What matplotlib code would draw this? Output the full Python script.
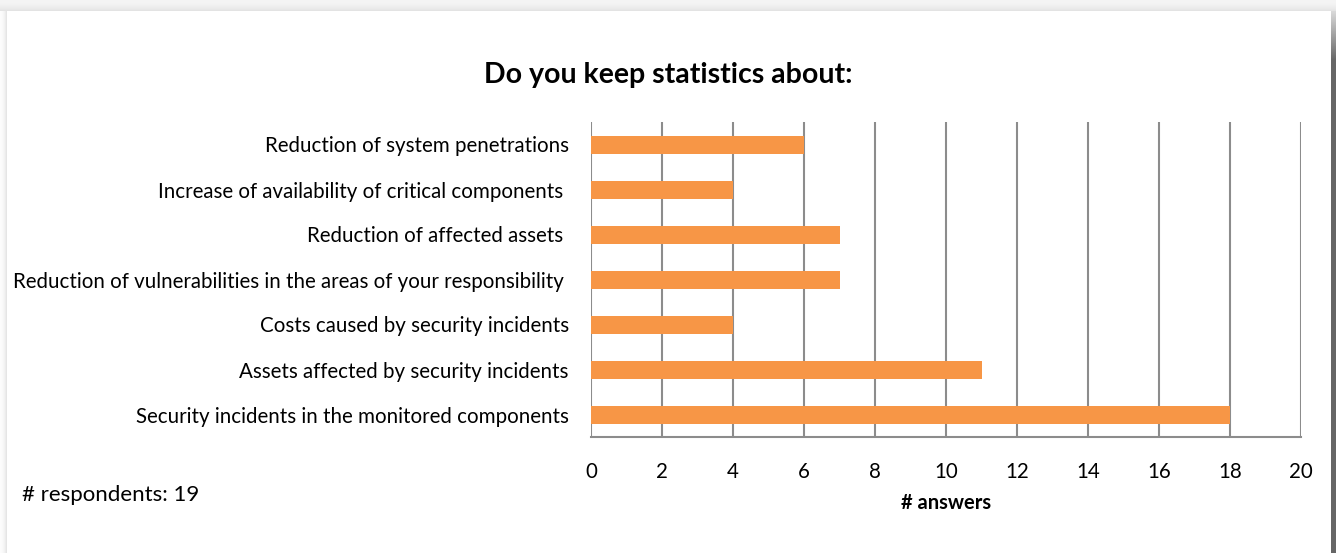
import matplotlib
matplotlib.use("Agg")
import matplotlib.pyplot as plt
import numpy as np

plt.rcParams['font.family'] = ['Lato', 'DejaVu Sans']

categories = [
    "Reduction of system penetrations",
    "Increase of availability of critical components ",
    "Reduction of affected assets ",
    "Reduction of vulnerabilities in the areas of your responsibility ",
    "Costs caused by security incidents",
    "Assets affected by security incidents",
    "Security incidents in the monitored components",
]
answers = [6, 4, 7, 7, 4, 11, 18]
x_ticks = [0, 2, 4, 6, 8, 10, 12, 14, 16, 18, 20]

W, H = 1336, 553
fig = plt.figure(figsize=(W / 100, H / 100), dpi=100)
fig.patch.set_facecolor('white')

# page frame with soft shadow
bg = fig.add_axes([0, 0, 1, 1], zorder=-10)
bg.set_xlim(0, W)
bg.set_ylim(H, 0)
bg.axis('off')
img = np.ones((H, W, 3))
top = 11
left = 7
for y in range(top):
    v = 0.96 - 0.08 * (y / top) ** 2
    img[y, :, :] = v
for x in range(left):
    v = 0.99 - 0.12 * (x / left) ** 2
    img[top:, x, :] = np.minimum(img[top:, x, :], v)
img[top:, 1331:, :] = 0.40
for y in range(top, 60):
    t = (y - top) / 49
    img[y, 1331:, :] = 0.85 - 0.45 * t
bg.imshow(img, extent=(0, W, H, 0), aspect='auto', interpolation='bilinear')

ax = fig.add_axes([591 / W, 116 / H, 710 / W, 315 / H])
ypos = np.arange(len(categories))
ax.barh(ypos, answers, height=0.4, color='#F79646', zorder=3)
ax.set_ylim(len(categories) - 0.5, -0.5)
ax.set_xlim(0, 20)
ax.set_xticks(x_ticks)
ax.set_xticklabels([str(t) for t in x_ticks], fontsize=14.8)
ax.set_yticks(ypos)
ax.set_yticklabels(categories, fontsize=14.8)
ax.tick_params(axis='both', length=0, colors='black')
ax.tick_params(axis='y', pad=16)
ax.tick_params(axis='x', pad=18)
ax.grid(axis='x', color='#8c8c8c', linewidth=1.5, zorder=0)
for s in ['top', 'right', 'left']:
    ax.spines[s].set_visible(False)
ax.spines['bottom'].set_color('#8c8c8c')
ax.spines['bottom'].set_linewidth(1.5)
ax.set_xlabel('# answers', fontsize=14.5, fontweight='bold', labelpad=8)

fig.text(668 / W, 1 - 75 / H, 'Do you keep statistics about:', ha='center', va='center',
         fontsize=20.5, fontweight='bold')
fig.text(22 / W, 1 - 495 / H, '# respondents: 19', ha='left', va='center', fontsize=16)

fig.savefig('out.png', dpi=100)
